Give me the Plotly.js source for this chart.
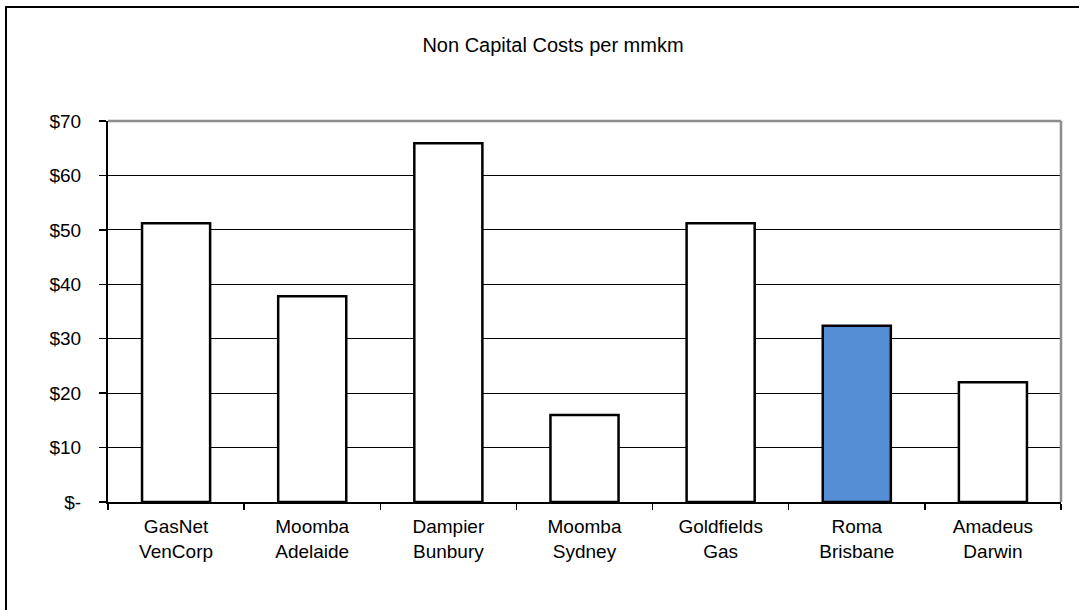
<!DOCTYPE html>
<html>
<head>
<meta charset="utf-8">
<script src="https://cdn.plot.ly/plotly-3.0.1.min.js"></script>
<style>
  html, body { margin: 0; padding: 0; background: #fff; overflow: hidden; }
  #frame { position: absolute; left: 5px; top: 6px; width: 1200px; height: 700px;
           border-left: 2px solid #000; border-top: 2px solid #000; pointer-events: none; z-index: 5; }
  #chart { position: absolute; left: 0; top: 0; width: 1079px; height: 610px; }
</style>
</head>
<body>
<div id="chart"></div>
<div id="frame"></div>
<script>
const categories = ["GasNet<br>VenCorp", "Moomba<br>Adelaide", "Dampier<br>Bunbury", "Moomba<br>Sydney", "Goldfields<br>Gas", "Roma<br>Brisbane", "Amadeus<br>Darwin"];
const costs = [51.2, 37.8, 65.9, 16.0, 51.2, 32.4, 22.0];
const barColors = ["#ffffff", "#ffffff", "#ffffff", "#ffffff", "#ffffff", "#558ed5", "#ffffff"];
const yTickVals = [0, 10, 20, 30, 40, 50, 60, 70];
const yTickText = ["$-", "$10", "$20", "$30", "$40", "$50", "$60", "$70"];
const chartTitle = "Non Capital Costs per mmkm";

const font = { family: "Liberation Sans, Arial, sans-serif", color: "#000" };

const trace = {
  type: "bar",
  x: categories,
  y: costs,
  marker: { color: barColors, line: { color: "#000", width: 2.5 } },
  hoverinfo: "x+y"
};

const layout = {
  width: 1079,
  height: 610,
  margin: { l: 108, r: 18, t: 121, b: 108 },
  paper_bgcolor: "#fff",
  plot_bgcolor: "#fff",
  showlegend: false,
  bargap: 0.5,
  font: Object.assign({ size: 18 }, font),
  title: {
    text: chartTitle,
    font: Object.assign({ size: 20 }, font),
    xref: "container", yref: "container",
    x: 0.5125, xanchor: "center",
    y: 1 - 45 / 610, yanchor: "middle"
  },
  xaxis: {
    type: "category",
    tickson: "boundaries",
    ticks: "outside",
    ticklen: 6,
    tickwidth: 1.5,
    tickcolor: "#000",
    ticklabelstandoff: 6,
    showline: true,
    linecolor: "#000",
    linewidth: 2,
    showgrid: false,
    tickfont: Object.assign({ size: 19 }, font),
    fixedrange: true
  },
  yaxis: {
    range: [0, 70],
    tickvals: yTickVals,
    ticktext: yTickText,
    ticks: "outside",
    ticklen: 7,
    tickwidth: 1.5,
    tickcolor: "#000",
    ticklabelstandoff: 14,
    showline: true,
    linecolor: "#000",
    linewidth: 2,
    showgrid: true,
    gridcolor: "#000",
    gridwidth: 1,
    zeroline: false,
    tickfont: Object.assign({ size: 19 }, font),
    fixedrange: true
  },
  shapes: [
    { type: "line", xref: "paper", yref: "paper", x0: 0, x1: 1, y0: 1, y1: 1,
      line: { color: "#8c8c8c", width: 2.5 }, layer: "above" },
    { type: "line", xref: "paper", yref: "paper", x0: 1, x1: 1, y0: 0, y1: 1,
      line: { color: "#8c8c8c", width: 2.5 }, layer: "above" }
  ]
};

Plotly.newPlot("chart", [trace], layout, { displayModeBar: false, staticPlot: true });
</script>
</body>
</html>
